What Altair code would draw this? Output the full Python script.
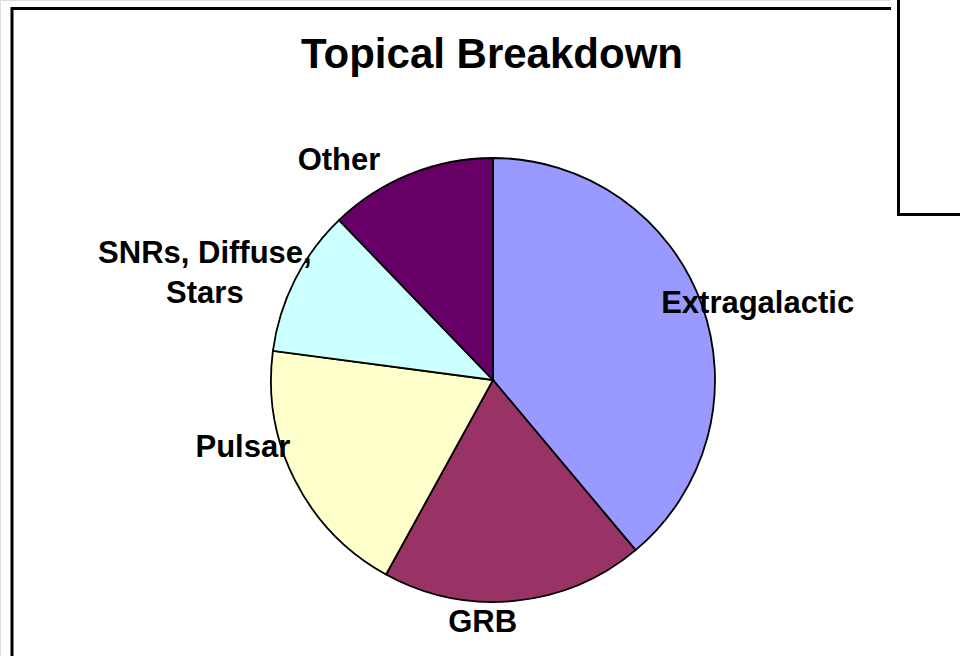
import altair as alt
import pandas as pd

# Share of topics (percent), listed clockwise from 12 o'clock
categories = ["Extragalactic", "GRB", "Pulsar", "SNRs, Diffuse,\nStars", "Other"]
shares = [38.9, 19.1, 19.1, 10.7, 12.2]
colors = ["#9999FF", "#993366", "#FFFFCC", "#CCFFFF", "#660066"]
title_text = "Topical Breakdown"

df = pd.DataFrame({"category": categories, "share": shares, "idx": list(range(len(categories)))})

CX, CY, R = 493, 380, 222

# Cumulative start/end fractions so arcs and labels share one theta scale
base = (
    alt.Chart(df)
    .transform_joinaggregate(total="sum(share)")
    .transform_window(cum="sum(share)", sort=[alt.SortField("idx")], frame=[None, 0])
    .transform_calculate(
        f_end="datum.cum / datum.total",
        f_start="(datum.cum - datum.share) / datum.total",
        f_mid="(datum.cum - datum.share / 2) / datum.total",
    )
)

theta_scale = alt.Scale(domain=[0, 1], range=[0, 6.283185307179586])

frame = alt.Chart(pd.DataFrame({"k": [0]})).mark_rect(
    fill="white", stroke="black", strokeWidth=3
).encode(x=alt.value(12), x2=alt.value(1200), y=alt.value(8.5), y2=alt.value(1000))

# white margin around the neighbouring box, which hides the end of the frame's top edge
side_margin = alt.Chart(pd.DataFrame({"k": [0]})).mark_rect(fill="white").encode(
    x=alt.value(891), x2=alt.value(1200), y=alt.value(-20), y2=alt.value(217)
)

side_box = alt.Chart(pd.DataFrame({"k": [0]})).mark_rect(
    fill="white", stroke="black", strokeWidth=3
).encode(x=alt.value(898.5), x2=alt.value(1200), y=alt.value(-20), y2=alt.value(214.5))

title = alt.Chart(pd.DataFrame({"t": [title_text]})).mark_text(
    font="Liberation Sans", fontWeight="bold", fontSize=42, align="center",
    baseline="alphabetic", color="black"
).encode(text="t:N", x=alt.value(492), y=alt.value(68))

pie = base.mark_arc(stroke="black", strokeWidth=1.8, radius=R).encode(
    theta=alt.Theta("f_start:Q", scale=theta_scale),
    theta2="f_end:Q",
    color=alt.Color("category:N", scale=alt.Scale(domain=categories, range=colors), legend=None),
    x=alt.value(CX),
    y=alt.value(CY),
)

# Label nudges (pixels) from the slice's mid-angle point on the rim
label_offsets = {
    "Extragalactic": (56, 0),
    "GRB": (-32, 22),
    "Pulsar": (-52, -32),
    "SNRs, Diffuse,\nStars": (-90, -26),
    "Other": (-71, -13),
}

label_layers = []
for name in categories:
    ddx, ddy = label_offsets[name]
    lyr = base.transform_filter(alt.datum.category == name).mark_text(
        font="Liberation Sans", fontWeight="bold", fontSize=31, align="center",
        baseline="middle", color="black", radius=R, dx=ddx, dy=ddy,
        lineBreak="\n", lineHeight=40,
    ).encode(
        theta=alt.Theta("f_mid:Q", scale=theta_scale),
        text="category:N",
        x=alt.value(CX),
        y=alt.value(CY),
    )
    label_layers.append(lyr)

chart = alt.layer(frame, side_margin, side_box, title, pie, *label_layers).properties(
    width=960, height=656, padding=0, autosize=alt.AutoSizeParams(type="none")
).configure_view(stroke=None).configure(background="white")

chart.save("out.html", embed_options={"renderer": "svg", "actions": False})
